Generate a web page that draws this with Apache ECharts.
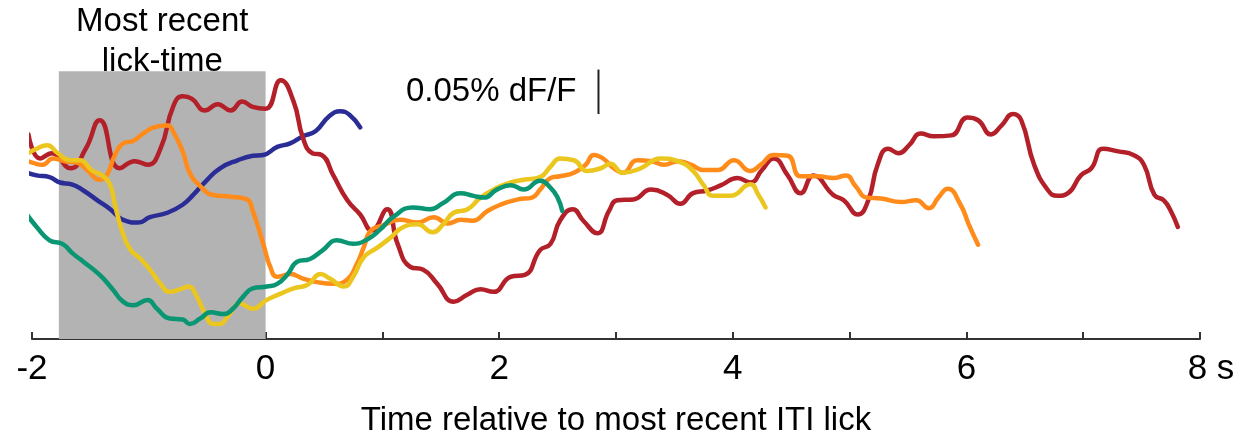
<!DOCTYPE html>
<html>
<head>
<meta charset="utf-8">
<script src="https://cdn.jsdelivr.net/npm/echarts@6/dist/echarts.min.js"></script>
<style>
html,body{margin:0;padding:0;background:#fff;}
#chart{width:1247px;height:442px;}
</style>
</head>
<body>
<div id="chart"></div>
<script>
// x: time relative to most recent ITI lick (s); y: dF/F (%), arbitrary baseline
const xTicks = [-2, 0, 2, 4, 6, 8];
const lickWindow = [-1.77, 0];          // shaded "most recent lick-time" window (s)
const lickWindowTop = 0.301;            // top of shaded window (% dF/F)
const scaleBarX = 2.85;
const scaleBarBase = 0.253;
const scaleBarSize = 0.05;              // 0.05 % dF/F

const red = [[-2.03,0.230],[-1.93,0.203],[-1.83,0.209],[-1.67,0.192],[-1.54,0.214],[-1.42,0.246],[-1.25,0.192],[-1.12,0.200],[-1.01,0.196],[-0.90,0.214],[-0.79,0.262],[-0.71,0.273],[-0.63,0.270],[-0.52,0.257],[-0.41,0.264],[-0.30,0.257],[-0.20,0.267],[-0.11,0.261],[0.00,0.259],[0.13,0.291],[0.24,0.267],[0.32,0.226],[0.40,0.209],[0.48,0.207],[0.58,0.184],[0.70,0.156],[0.81,0.140],[0.91,0.122],[1.04,0.146],[1.13,0.107],[1.24,0.081],[1.35,0.078],[1.47,0.062],[1.61,0.042],[1.73,0.050],[1.84,0.056],[1.95,0.053],[2.10,0.070],[2.22,0.072],[2.35,0.100],[2.44,0.107],[2.52,0.133],[2.63,0.146],[2.72,0.133],[2.84,0.119],[2.94,0.144],[3.01,0.156],[3.15,0.157],[3.30,0.168],[3.44,0.162],[3.55,0.152],[3.66,0.164],[3.78,0.167],[3.90,0.173],[4.04,0.181],[4.15,0.176],[4.25,0.190],[4.35,0.203],[4.47,0.184],[4.58,0.164],[4.69,0.184],[4.86,0.162],[4.95,0.156],[5.07,0.140],[5.16,0.156],[5.24,0.196],[5.33,0.214],[5.42,0.209],[5.51,0.218],[5.61,0.231],[5.72,0.228],[5.87,0.229],[6.01,0.249],[6.10,0.246],[6.21,0.230],[6.30,0.240],[6.40,0.253],[6.47,0.246],[6.58,0.196],[6.70,0.167],[6.78,0.161],[6.87,0.164],[6.98,0.184],[7.07,0.192],[7.17,0.214],[7.30,0.211],[7.43,0.207],[7.52,0.196],[7.61,0.162],[7.69,0.156],[7.75,0.144],[7.81,0.126]];

const orange = [[-2.06,0.201],[-1.99,0.198],[-1.91,0.196],[-1.82,0.203],[-1.72,0.200],[-1.61,0.198],[-1.52,0.189],[-1.42,0.179],[-1.36,0.184],[-1.29,0.207],[-1.22,0.220],[-1.13,0.223],[-1.05,0.231],[-0.93,0.239],[-0.84,0.240],[-0.79,0.233],[-0.71,0.211],[-0.65,0.187],[-0.56,0.172],[-0.45,0.162],[-0.30,0.160],[-0.16,0.157],[-0.11,0.144],[-0.02,0.107],[0.04,0.081],[0.10,0.070],[0.21,0.073],[0.32,0.068],[0.44,0.064],[0.58,0.062],[0.70,0.067],[0.78,0.084],[0.84,0.103],[0.90,0.122],[1.01,0.128],[1.15,0.134],[1.30,0.131],[1.44,0.137],[1.56,0.130],[1.67,0.134],[1.77,0.133],[1.90,0.144],[2.01,0.151],[2.16,0.157],[2.28,0.159],[2.35,0.168],[2.44,0.181],[2.52,0.183],[2.64,0.187],[2.74,0.196],[2.81,0.207],[2.89,0.203],[2.98,0.192],[3.06,0.187],[3.18,0.201],[3.30,0.200],[3.41,0.196],[3.53,0.200],[3.64,0.196],[3.75,0.190],[3.87,0.190],[4.01,0.201],[4.15,0.189],[4.24,0.196],[4.35,0.207],[4.47,0.206],[4.58,0.183],[4.73,0.183],[4.86,0.181],[4.97,0.184],[5.05,0.172],[5.15,0.159],[5.27,0.158],[5.44,0.154],[5.57,0.156],[5.68,0.147],[5.76,0.159],[5.84,0.169],[5.95,0.151],[6.02,0.129],[6.10,0.106]];

const yellow = [[-2.06,0.207],[-1.96,0.214],[-1.87,0.218],[-1.78,0.209],[-1.67,0.201],[-1.59,0.201],[-1.49,0.190],[-1.39,0.183],[-1.33,0.173],[-1.29,0.151],[-1.23,0.122],[-1.16,0.101],[-1.07,0.090],[-0.99,0.078],[-0.90,0.062],[-0.82,0.053],[-0.73,0.056],[-0.66,0.059],[-0.59,0.048],[-0.52,0.029],[-0.45,0.017],[-0.39,0.017],[-0.32,0.026],[-0.22,0.040],[-0.11,0.034],[0.01,0.044],[0.13,0.051],[0.24,0.057],[0.36,0.061],[0.47,0.073],[0.55,0.068],[0.67,0.059],[0.75,0.070],[0.84,0.092],[0.96,0.103],[1.07,0.114],[1.18,0.126],[1.30,0.129],[1.43,0.120],[1.52,0.129],[1.61,0.142],[1.73,0.146],[1.84,0.159],[1.98,0.170],[2.10,0.176],[2.21,0.179],[2.35,0.182],[2.44,0.194],[2.52,0.203],[2.64,0.201],[2.75,0.189],[2.87,0.192],[2.95,0.197],[3.06,0.187],[3.21,0.192],[3.38,0.203],[3.55,0.199],[3.66,0.189],[3.75,0.173],[3.83,0.161],[3.98,0.161],[4.15,0.174],[4.22,0.162],[4.28,0.148]];

const green = [[-2.06,0.143],[-1.96,0.126],[-1.85,0.111],[-1.74,0.107],[-1.65,0.096],[-1.56,0.087],[-1.42,0.072],[-1.31,0.056],[-1.22,0.042],[-1.13,0.038],[-1.01,0.044],[-0.93,0.034],[-0.82,0.023],[-0.71,0.022],[-0.65,0.017],[-0.56,0.023],[-0.47,0.030],[-0.36,0.028],[-0.28,0.034],[-0.19,0.048],[-0.11,0.057],[0.01,0.059],[0.10,0.062],[0.19,0.073],[0.27,0.087],[0.38,0.090],[0.49,0.100],[0.61,0.111],[0.75,0.107],[0.87,0.112],[0.98,0.123],[1.09,0.137],[1.26,0.148],[1.41,0.146],[1.52,0.153],[1.67,0.164],[1.78,0.161],[1.87,0.159],[1.98,0.168],[2.10,0.173],[2.21,0.168],[2.35,0.178],[2.44,0.170],[2.50,0.159],[2.54,0.144]];

const blue = [[-2.06,0.188],[-1.96,0.184],[-1.85,0.182],[-1.76,0.176],[-1.66,0.174],[-1.56,0.167],[-1.44,0.156],[-1.33,0.146],[-1.22,0.134],[-1.09,0.131],[-0.99,0.137],[-0.84,0.142],[-0.71,0.151],[-0.62,0.162],[-0.50,0.179],[-0.39,0.192],[-0.24,0.201],[-0.11,0.206],[-0.02,0.207],[0.10,0.216],[0.21,0.220],[0.32,0.228],[0.43,0.234],[0.54,0.250],[0.64,0.256],[0.72,0.252],[0.81,0.238]];

const FONT = '"Liberation Sans", Arial, Helvetica, sans-serif';
const chart = echarts.init(document.getElementById('chart'), null, {renderer:'canvas'});

function trace(name, data, color) {
  return {
    name, type:'line', data, smooth:0.5, showSymbol:false, symbol:'none',
    clip:false, z:3, lineStyle:{color, width:4.5, cap:'round', join:'round'},
    silent:true
  };
}

chart.setOption({
  animation:false,
  backgroundColor:'#ffffff',
  grid:{left:32, right:47, top:10, bottom:99, containLabel:false},
  xAxis:{
    type:'value', min:-2, max:8, interval:1,
    name:'Time relative to most recent ITI lick',
    nameLocation:'middle', nameGap:65,
    nameTextStyle:{fontFamily:FONT, fontSize:33, color:'#000'},
    axisLine:{show:true, onZero:false, lineStyle:{color:'#333', width:2}},
    axisTick:{show:true, inside:true, length:7, lineStyle:{color:'#333', width:2}},
    splitLine:{show:false},
    axisLabel:{
      fontFamily:FONT, fontSize:35, color:'#000', margin:13,
      formatter:function(v){
        if (xTicks.indexOf(v) < 0) return '';
        if (v === 8) return '{pad|}8 s';
        return String(v);
      },
      rich:{pad:{width:22}}
    }
  },
  yAxis:{type:'value', min:0, max:0.37, show:false},
  series:[
    {
      name:'window', type:'line', data:[], z:1,
      markArea:{
        silent:true,
        itemStyle:{color:'#b3b3b3'},
        label:{show:true, position:'top', distance:-11, formatter:'Most recent\nlick-time',
               fontFamily:FONT, fontSize:33, lineHeight:40, color:'#000'},
        data:[[{xAxis:lickWindow[0], yAxis:0},{xAxis:lickWindow[1], yAxis:lickWindowTop}]]
      }
    },
    trace('blue', blue, '#2b2d96'),
    trace('red', red, '#b3202a'),
    trace('orange', orange, '#ff8c1a'),
    trace('yellow', yellow, '#ebc61e'),
    trace('green', green, '#0a9673'),
    {
      name:'scale', type:'line', data:[[scaleBarX, scaleBarBase],[scaleBarX, scaleBarBase+scaleBarSize]],
      showSymbol:false, symbol:'none', silent:true, z:4,
      lineStyle:{color:'#222', width:2}
    },
    {
      name:'scaleLabel', type:'scatter', symbolSize:0, silent:true, z:4,
      itemStyle:{opacity:1},
      data:[[scaleBarX, scaleBarBase+scaleBarSize/2]],
      label:{show:true, position:'left', distance:22, formatter:'0.05% dF/F',
             fontFamily:FONT, fontSize:33, color:'#000', opacity:1}
    }
  ]
});
</script>
</body>
</html>
